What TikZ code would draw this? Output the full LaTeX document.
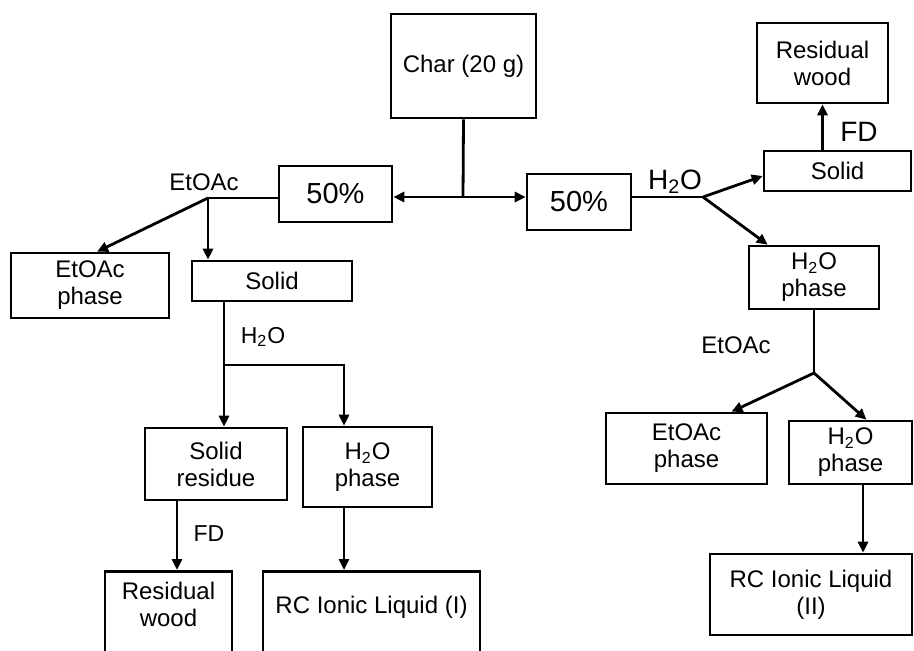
\documentclass[tikz,border=0pt]{standalone}
\usepackage{fontspec}
\setmainfont{Liberation Sans}
\usetikzlibrary{arrows.meta, calc}

\begin{document}
\begin{tikzpicture}[x=0.5pt, y=-0.5pt, >={Triangle[length=5.5pt, width=5pt]},
	box/.style={draw, line width=1.3pt, align=center, inner sep=0pt, font=\fontsize{12}{13.5}\selectfont},
	pct/.style={box, font=\fontsize{14.5}{16}\selectfont, minimum height=28pt},
	lbl/.style={inner sep=0pt, font=\fontsize{12}{13.5}\selectfont},
	big/.style={lbl, font=\fontsize{14}{16}\selectfont},
	flow/.style={line width=1.4pt}]
	\useasboundingbox (0,0) rectangle (914,650);
	\clip (0,0) rectangle (914,650);

	% top and split
	\node[box, minimum width=72.5pt, minimum height=52pt] (char) at (463.5,66) {Char (20 g)};
	\node[pct, minimum width=56.5pt] (halfL) at (335.5,194) {50\%};
	\node[pct, minimum width=52pt] (halfR) at (579,202) {50\%};

	% right branch
	\node[box, minimum width=73.5pt, minimum height=20pt] (solidR) at (837.5,171) {Solid};
	\node[box, minimum width=65.5pt, minimum height=40pt] (woodR) at (822.5,63) {Residual\\wood};
	\node[box, minimum width=65pt, minimum height=31.5pt] (waterR) at (814,277.5) {H\textsubscript{2}O\\phase};
	\node[box, minimum width=80.5pt, minimum height=35.5pt] (esterR) at (686.5,448.5) {EtOAc\\phase};
	\node[box, minimum width=61.5pt, minimum height=31.5pt] (waterRR) at (850.5,452.5) {H\textsubscript{2}O\\phase};
	\node[box, minimum width=101pt, minimum height=40.5pt] (ionicII) at (811,594.5) {RC Ionic Liquid\\(II)};

	% left branch
	\node[box, minimum width=79pt, minimum height=32.5pt] (esterL) at (90,285.5) {EtOAc\\phase};
	\node[box, minimum width=80pt, minimum height=20pt] (solidL) at (272,281) {Solid};
	\node[box, minimum width=71pt, minimum height=36pt] (residue) at (216,464) {Solid\\residue};
	\node[box, minimum width=64.5pt, minimum height=40pt] (waterL) at (367.5,467) {H\textsubscript{2}O\\phase};
	\node[box, anchor=north, minimum width=63.5pt, minimum height=60pt,
		label={[lbl, align=center, anchor=north, yshift=-6pt]north:{Residual\\wood}}] (woodL) at (168.5,570) {};
	\node[box, anchor=north, minimum width=108.5pt, minimum height=60pt,
		label={[lbl, anchor=north, yshift=-13pt]north:{RC Ionic Liquid (I)}}] (ionicI) at (371.5,570) {};

	% side labels
	\node[lbl] (esterTagL) at (204,182) {EtOAc};
	\node[big] (waterTagR) at (675,182) {H\textsubscript{2}O};
	\node[big] (fdR) at (859,132) {FD};
	\node[lbl] (esterTagR) at (736,345) {EtOAc};
	\node[lbl, font=\fontsize{11.5}{13}\selectfont] (waterTagL) at (263,337) {H\textsubscript{2}O};
	\node[lbl, font=\fontsize{11.5}{13}\selectfont] (fdL) at (209,534) {FD};

	% junctions
	\coordinate (jc) at (463,197);
	\coordinate (jl) at (208,198);
	\coordinate (jh) at (224,365);
	\coordinate (jh2) at (344,365);
	\coordinate (dl) at (177,0);
	\coordinate (jr) at (703,197);
	\coordinate (je) at (814,373);
	\coordinate (dr) at (863,0);

	\draw[flow] (char.south) -- (jc);
	\draw[flow, <->] (halfL.east |- jc) -- (halfR.west |- jc);

	\draw[flow] (halfL.west |- jl) -- (jl);
	\draw[flow, ->] (jl) -- ($(esterL.north)+(7,0)$);
	\draw[flow, ->] (jl) -- (jl |- solidL.north);
	\draw[flow, ->] (jh |- solidL.south) -- (jh |- residue.north);
	\draw[flow, ->] (jh) -- (jh2) -- (jh2 |- waterL.north);
	\draw[flow, ->] (dl |- residue.south) -- (dl |- woodL.north);
	\draw[flow, ->] (jh2 |- waterL.south) -- (jh2 |- ionicI.north);

	\draw[flow] (halfR.east |- jr) -- (jr);
	\draw[flow, ->] (jr) -- ($(solidR.west)+(0,5)$);
	\draw[flow, ->] (jr) -- ($(waterR.north west)+(20,0)$);
	\draw[flow, ->] (woodR.south |- solidR.north) -- (woodR.south);
	\draw[flow] (waterR.south) -- (je);
	\draw[flow, ->] (je) -- ($(esterR.north)+(45,0)$);
	\draw[flow, ->] (je) -- ($(waterRR.north)+(16,0)$);
	\draw[flow, ->] (dr |- waterRR.south) -- (dr |- ionicII.north);
\end{tikzpicture}
\end{document}
